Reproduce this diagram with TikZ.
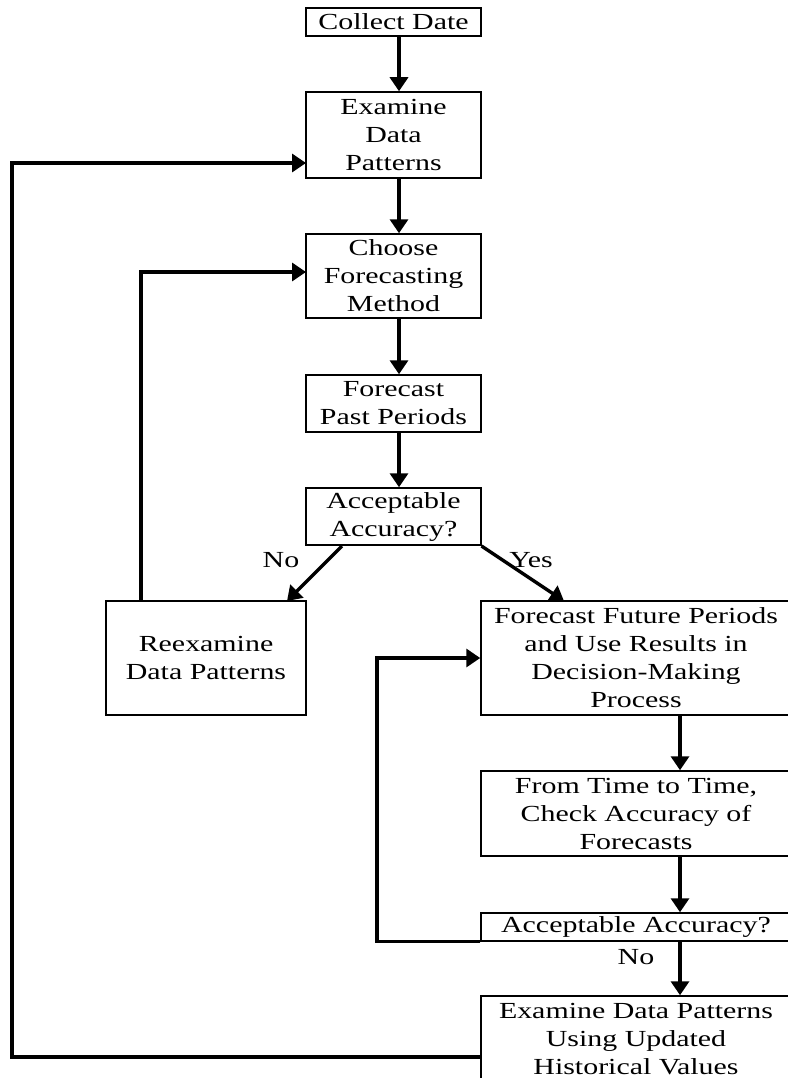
\documentclass[tikz,border=0pt]{standalone}
\usepackage{fontspec}
\setmainfont{Liberation Serif}[FakeStretch=1.3]
\usetikzlibrary{arrows.meta}
\begin{document}
\begin{tikzpicture}[x=1pt,y=-1pt,
  box/.style={draw, line width=1.5pt, inner sep=0pt, align=center,
    font=\fontsize{23}{28}\selectfont},
  lbl/.style={inner sep=0pt, font=\fontsize{23}{28}\selectfont},
  arr/.style={line width=3.4pt, -{Triangle[width=18pt,length=14pt]}},
  ln/.style={line width=3.4pt}]
\useasboundingbox (0,0) rectangle (787,1078);
\fill[white] (0,0) rectangle (787,1078);
% left column boxes
\node[box, minimum width=175pt, minimum height=28pt] (collect) at (393.5,22) {Collect Date};
\node[box, minimum width=175pt, minimum height=86pt] (examine) at (393.5,135) {Examine\\Data\\Patterns};
\node[box, minimum width=175pt, minimum height=84pt] (choose) at (393.5,276) {Choose\\Forecasting\\Method};
\node[box, minimum width=175pt, minimum height=57pt] (past) at (393.5,403.5) {Forecast\\Past Periods};
\node[box, minimum width=175pt, minimum height=57pt] (acc1) at (393.5,516.5) {Acceptable\\Accuracy?};
\node[box, minimum width=200pt, minimum height=114pt] (reex) at (206,658) {Reexamine\\Data Patterns};
% right column boxes
\node[box, minimum width=310pt, minimum height=114pt] (ff) at (636,658) {Forecast Future Periods\\and Use Results in\\Decision-Making\\Process};
\node[box, minimum width=310pt, minimum height=85pt] (check) at (636,813.5) {From Time to Time,\\Check Accuracy of\\Forecasts};
\node[box, minimum width=310pt, minimum height=28pt] (acc2) at (636,927) {Acceptable Accuracy?};
\node[box, minimum width=310pt, minimum height=86pt] (upd) at (636,1039) {Examine Data Patterns\\Using Updated\\Historical Values};
% helper coordinates
\coordinate (lc) at (399,0);
\coordinate (rc) at (680,0);
% main flow
\draw[arr] (collect.south -| lc) -- (examine.north -| lc);
\draw[arr] (examine.south -| lc) -- (choose.north -| lc);
\draw[arr] (choose.south -| lc) -- (past.north -| lc);
\draw[arr] (past.south -| lc) -- (acc1.north -| lc);
\coordinate (nos) at (342,546);
\coordinate (noe) at (287,601);
\coordinate (yss) at (481.5,546);
\coordinate (yse) at (564,601);
\draw[arr] (nos) -- (noe);
\draw[arr] (yss) -- (yse);
\node[lbl] (no1) at (281,560) {No};
\node[lbl] (yes1) at (531,560) {Yes};
\draw[arr] (ff.south -| rc) -- (check.north -| rc);
\draw[arr] (check.south -| rc) -- (acc2.north -| rc);
\draw[arr] (acc2.south -| rc) -- (upd.north -| rc);
\node[lbl] (no2) at (636,957) {No};
% loops
\coordinate (l1) at (12,0);
\coordinate (l2) at (141,0);
\coordinate (l3) at (377,0);
\coordinate (s1) at (481,1057);
\coordinate (e1) at (306,163);
\coordinate (e2) at (306,272);
\draw[arr] (s1) -- (s1 -| l1) -- (l1 |- e1) -- (e1);
\draw[arr] (reex.north -| l2) -- (l2 |- e2) -- (e2);
\draw[arr] (acc2.south west) -- (acc2.south west -| l3) -- (l3 |- ff.west) -- (ff.west);
\end{tikzpicture}
\end{document}
